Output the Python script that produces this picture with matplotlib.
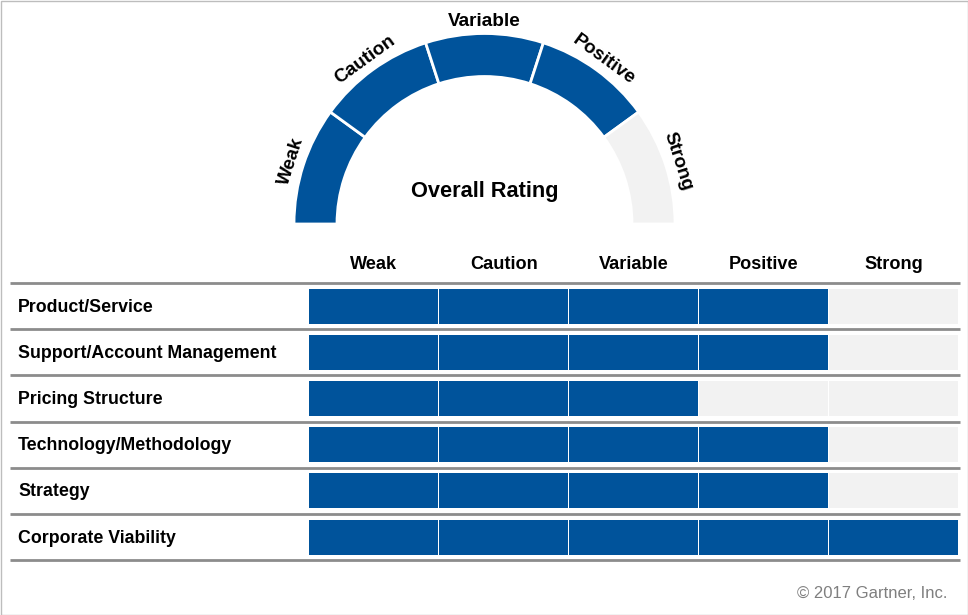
import math
import matplotlib
matplotlib.use("Agg")
import matplotlib.pyplot as plt
from matplotlib.patches import Wedge, Rectangle

plt.rcParams['font.family'] = ['Liberation Sans', 'DejaVu Sans']

# ---- data ----
levels = ["Weak", "Caution", "Variable", "Positive", "Strong"]
criteria = ["Product/Service", "Support/Account Management", "Pricing Structure",
            "Technology/Methodology", "Strategy", "Corporate Viability"]
ratings = [4, 4, 3, 4, 4, 5]          # number of filled levels per criterion
overall_rating = 4                     # Positive
gauge_title = "Overall Rating"
copyright_text = "\u00a9 2017 Gartner, Inc."

BLUE = "#00539b"
GREY = "#f2f2f2"
LINE = "#8c8c8c"

fig = plt.figure(figsize=(9.68, 6.15), dpi=100)
ax = fig.add_axes([0, 0, 1, 1])
ax.set_xlim(0, 968)
ax.set_ylim(615, 0)
ax.axis("off")

# border
ax.add_patch(Rectangle((0.5, 0.5), 967, 614, fill=False, ec="#bdbdbd", lw=1))

# ---- gauge ----
cx, cy = 484.5, 224
r_out, r_in = 190.5, 147.5
n = len(levels)
step = 180.0 / n
for i, lab in enumerate(levels):
    a1 = 180 - (i + 1) * step   # visual angles (ccw)
    a2 = 180 - i * step
    col = BLUE if i < overall_rating else GREY
    ax.add_patch(Wedge((cx, cy), r_out, -a2, -a1, width=r_out - r_in,
                       fc=col, ec="white", lw=2))
    am = (a1 + a2) / 2
    rl = 203
    tx = cx + rl * math.cos(math.radians(am))
    ty = cy - rl * math.sin(math.radians(am))
    ax.text(tx, ty, lab, rotation=am - 90, ha="center", va="center",
            fontsize=13.6, fontweight="bold", color="black", rotation_mode="anchor")
ax.text(cx + 0.5, 192, gauge_title, ha="center", va="center", fontsize=15.7,
        fontweight="bold", color="black")

# ---- table ----
x0 = 309
cw = 130
row_top = 283
rh = 46.2
for j, lab in enumerate(levels):
    ax.text(x0 + cw * j + cw / 2, 264.5, lab, ha="center", va="center",
            fontsize=13.1, fontweight="bold", color="black")

for k in range(len(criteria) + 1):
    y = row_top + k * rh
    ax.plot([10, 960], [y, y], color=LINE, lw=2, solid_capstyle="butt")

for r, (crit, val) in enumerate(zip(criteria, ratings)):
    yc = row_top + r * rh + rh / 2
    ax.text(18, yc + 1, crit, ha="left", va="center", fontsize=12.8,
            fontweight="bold", color="black")
    colors = [BLUE if j < val else GREY for j in range(n)]
    lefts = [x0 + cw * j for j in range(n)]
    ax.barh([yc] * n, [cw - 1.5] * n, left=lefts, height=35, color=colors,
            edgecolor="none")

ax.text(947, 594, copyright_text, ha="right", va="center", fontsize=12,
        color="#7f7f7f")

fig.savefig("out.png", dpi=100)
